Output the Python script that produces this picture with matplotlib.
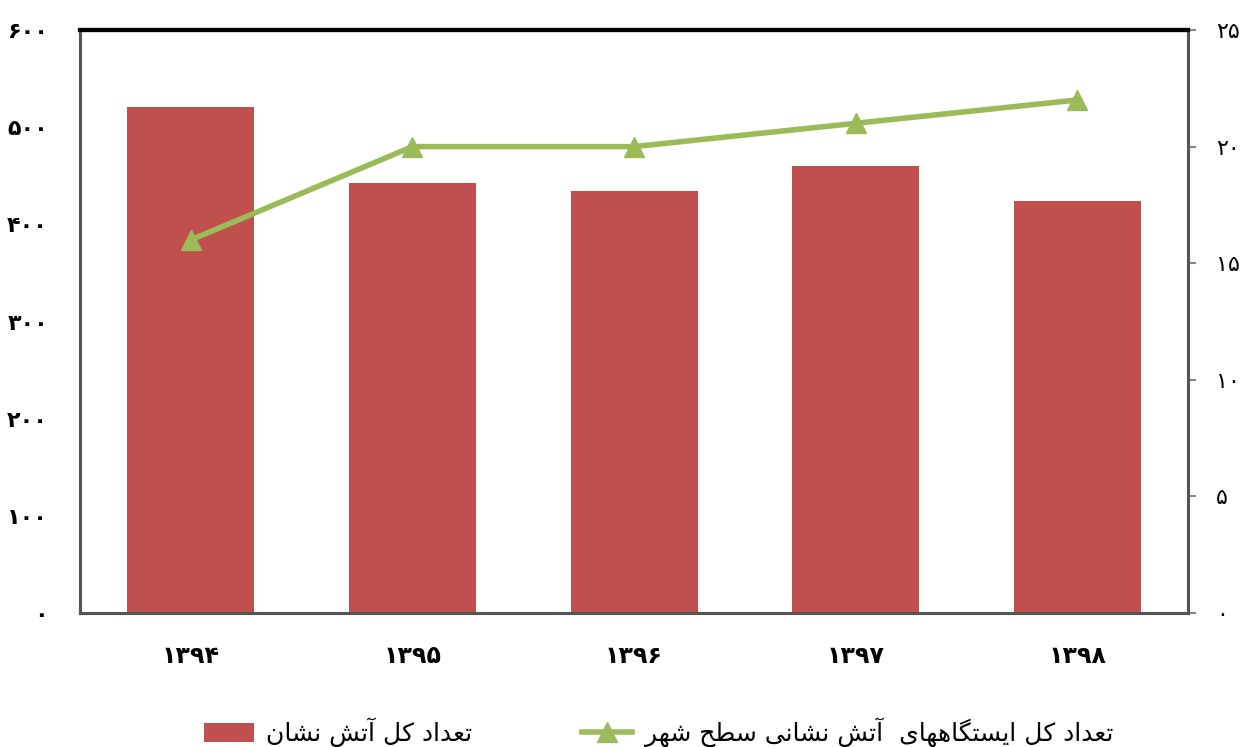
import matplotlib
matplotlib.use("Agg")
import matplotlib.pyplot as plt
from matplotlib.ticker import FuncFormatter
import numpy as np

# data
years = ["۱۳۹۴", "۱۳۹۵", "۱۳۹۶", "۱۳۹۷", "۱۳۹۸"]
firefighters = [521, 443, 434, 460, 424]
stations = [16, 20, 20, 21, 22]
label_bar = "تعداد کل آتش نشان"
label_line = "تعداد کل ایستگاههای  آتش نشانی سطح شهر"

BAR_C = "#C0504D"
LINE_C = "#9BBB59"

# matplotlib has no arabic shaping, so map letters to presentation forms
# (isolated, final, initial, medial) and reverse for display
FORMS = {
    "ت": ("\uFE95", "\uFE96", "\uFE97", "\uFE98"),
    "ع": ("\uFEC9", "\uFECA", "\uFECB", "\uFECC"),
    "ک": ("\uFB8E", "\uFB8F", "\uFB90", "\uFB91"),
    "ل": ("\uFEDD", "\uFEDE", "\uFEDF", "\uFEE0"),
    "ش": ("\uFEB5", "\uFEB6", "\uFEB7", "\uFEB8"),
    "ن": ("\uFEE5", "\uFEE6", "\uFEE7", "\uFEE8"),
    "ی": ("\uFBFC", "\uFBFD", "\uFBFE", "\uFBFF"),
    "س": ("\uFEB1", "\uFEB2", "\uFEB3", "\uFEB4"),
    "گ": ("\uFB92", "\uFB93", "\uFB94", "\uFB95"),
    "ه": ("\uFEE9", "\uFEEA", "\uFEEB", "\uFEEC"),
    "ط": ("\uFEC1", "\uFEC2", "\uFEC3", "\uFEC4"),
    "ح": ("\uFEA1", "\uFEA2", "\uFEA3", "\uFEA4"),
    "د": ("\uFEA9", "\uFEAA"),
    "ا": ("\uFE8D", "\uFE8E"),
    "آ": ("\uFE81", "\uFE82"),
    "ر": ("\uFEAD", "\uFEAE"),
}


def shape(text):
    out = []
    for i, ch in enumerate(text):
        if ch not in FORMS:
            out.append(ch)
            continue
        prev = text[i - 1] if i > 0 else ""
        nxt = text[i + 1] if i + 1 < len(text) else ""
        join_prev = prev in FORMS and len(FORMS[prev]) == 4
        join_next = len(FORMS[ch]) == 4 and nxt in FORMS
        f = FORMS[ch]
        if join_prev and join_next:
            out.append(f[3])
        elif join_prev:
            out.append(f[1])
        elif join_next:
            out.append(f[2])
        else:
            out.append(f[0])
    return "".join(reversed(out))


def fa_digits(v, pos=None):
    return str(int(round(v))).translate(str.maketrans("0123456789", "۰۱۲۳۴۵۶۷۸۹"))


plt.rcParams["font.family"] = ["DejaVu Sans"]

fig = plt.figure(figsize=(12.47, 7.47), dpi=100)
ax = fig.add_axes([0.0642, 0.1794, 0.8885, 0.7804])
ax2 = ax.twinx()

x = np.arange(len(years))
bars = ax.bar(x, firefighters, width=0.573, color=BAR_C, label=shape(label_bar), zorder=2)
line, = ax2.plot(x, stations, color=LINE_C, lw=4, marker="^", markersize=15,
                 label=shape(label_line), zorder=3)

ax.set_xlim(-0.5, 4.5)
ax.set_ylim(0, 600)
ax2.set_ylim(0, 25)
ax.set_yticks(np.arange(0, 601, 100))
ax2.set_yticks(np.arange(0, 26, 5))
ax.yaxis.set_major_formatter(FuncFormatter(fa_digits))
ax2.yaxis.set_major_formatter(FuncFormatter(fa_digits))
ax.set_xticks(x)
ax.set_xticklabels(years, fontsize=17, fontweight="bold")

ax.tick_params(axis="y", length=0, pad=23, labelsize=16)
for t in ax.get_yticklabels():
    t.set_fontweight("bold")
ax.tick_params(axis="x", length=0, pad=22)
ax2.tick_params(axis="y", length=6, width=1.5, color="#888888", labelsize=16, pad=14)

for a in (ax, ax2):
    for s in ("left", "bottom", "right"):
        a.spines[s].set_color("#555555")
        a.spines[s].set_linewidth(2.2)
    a.spines["top"].set_color("black")
    a.spines["top"].set_linewidth(3)

ax.set_zorder(ax2.get_zorder() - 1)
ax2.patch.set_visible(False)

fig.legend([bars, line], [shape(label_bar), shape(label_line)],
           loc="center", bbox_to_anchor=(0.528, 0.02), ncol=2, frameon=False,
           fontsize=18, handlelength=2.0, handleheight=0.8, handletextpad=0.5,
           columnspacing=4.4)

fig.savefig("out.png", dpi=100)
